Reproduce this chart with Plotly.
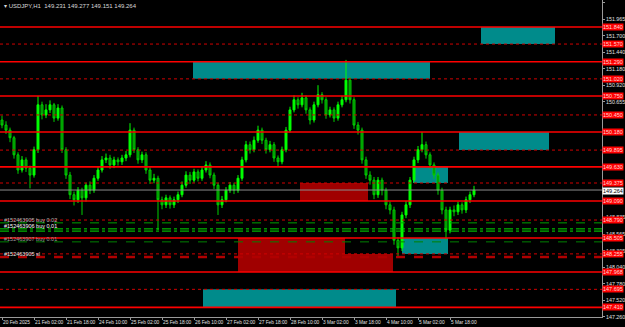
import plotly.graph_objects as go

# ---------------- data ----------------
opens = [150.37, 150.29, 150.21, 150.09, 149.82, 149.58, 149.74, 149.61, 149.50, 149.90,
         150.61, 150.45, 150.53, 150.61, 150.40, 150.56, 149.90, 149.50, 149.19, 149.11,
         149.26, 149.14, 149.34, 149.26, 149.45, 149.58, 149.74, 149.77, 149.66, 149.74,
         149.71, 149.77, 149.82, 150.21, 149.90, 149.74, 149.82, 149.58, 149.42, 149.45,
         149.11, 149.03, 149.14, 149.03, 149.11, 149.19, 149.34, 149.50, 149.42, 149.55,
         149.45, 149.58, 149.66, 149.50, 149.34, 149.03, 149.11, 149.26, 149.34, 149.26,
         149.45, 149.74, 149.98, 149.90, 150.05, 150.21, 150.05, 149.90, 149.98, 149.77,
         149.71, 149.90, 150.21, 150.53, 150.69, 150.61, 150.72, 150.53, 150.37, 150.61,
         150.77, 150.69, 150.45, 150.53, 150.40, 150.61, 150.69, 151.00, 150.69, 150.29,
         150.21, 149.74, 149.50, 149.42, 149.19, 149.42, 149.26, 149.03, 148.95, 148.47,
         148.35, 148.87, 149.03, 149.42, 149.74, 149.90, 149.98, 149.82, 149.66, 149.50,
         149.26, 148.95, 148.63, 148.95, 148.92, 149.03, 148.95, 149.11, 149.19]
highs = [150.44, 150.35, 150.25, 150.12, 149.86, 149.80, 149.78, 149.65, 149.95, 150.75,
         150.66, 150.62, 150.68, 150.64, 150.62, 150.60, 149.94, 149.55, 149.24, 149.31,
         149.30, 149.38, 149.40, 149.50, 149.63, 149.80, 149.84, 149.82, 149.79, 149.78,
         149.82, 149.88, 150.32, 150.25, 149.94, 149.87, 149.86, 149.62, 149.52, 149.49,
         149.16, 149.19, 149.18, 149.16, 149.24, 149.40, 149.56, 149.55, 149.60, 149.59,
         149.63, 149.72, 149.70, 149.54, 149.38, 149.17, 149.31, 149.39, 149.38, 149.50,
         149.79, 150.04, 150.03, 150.11, 150.28, 150.25, 150.09, 150.04, 150.02, 149.81,
         149.95, 150.26, 150.58, 150.76, 150.73, 150.80, 150.76, 150.57, 150.66, 150.92,
         150.81, 150.73, 150.58, 150.57, 150.66, 150.75, 151.32, 151.05, 150.73, 150.34,
         150.25, 149.79, 149.56, 149.47, 149.47, 149.46, 149.30, 149.08, 149.00, 148.52,
         148.92, 149.09, 149.47, 149.79, 149.96, 150.18, 150.03, 149.86, 149.70, 149.54,
         149.30, 149.00, 149.00, 149.02, 149.08, 149.07, 149.16, 149.24, 149.33]
lows = [150.24, 150.15, 150.02, 149.76, 149.52, 149.54, 149.55, 149.29, 149.46, 149.85,
        150.38, 150.40, 150.48, 150.34, 150.36, 149.85, 149.44, 149.12, 149.02, 149.06,
        148.87, 149.08, 149.20, 149.22, 149.41, 149.54, 149.69, 149.60, 149.61, 149.65,
        149.66, 149.72, 149.78, 149.85, 149.68, 149.69, 149.52, 149.36, 149.37, 148.63,
        148.96, 148.98, 148.97, 148.98, 149.06, 149.15, 149.30, 149.36, 149.38, 149.40,
        149.41, 149.54, 149.45, 149.28, 148.87, 148.98, 149.07, 149.22, 149.20, 149.22,
        149.41, 149.70, 149.84, 149.86, 150.01, 149.99, 149.84, 149.86, 149.71, 149.63,
        149.67, 149.86, 150.17, 150.49, 150.55, 150.57, 150.47, 150.30, 150.33, 150.57,
        150.63, 150.39, 150.41, 150.34, 150.36, 150.57, 150.65, 150.63, 150.23, 150.14,
        149.68, 149.44, 149.35, 149.12, 149.14, 149.18, 148.96, 148.88, 148.40, 148.19,
        148.30, 148.82, 148.98, 149.38, 149.69, 149.86, 149.76, 149.60, 149.44, 149.19,
        148.88, 148.47, 148.58, 148.85, 148.87, 148.89, 148.90, 149.06, 149.15]
closes = [150.29, 150.21, 150.09, 149.82, 149.58, 149.74, 149.61, 149.50, 149.90, 150.61,
          150.45, 150.53, 150.61, 150.40, 150.56, 149.90, 149.50, 149.19, 149.11, 149.26,
          149.14, 149.34, 149.26, 149.45, 149.58, 149.74, 149.77, 149.66, 149.74, 149.71,
          149.77, 149.82, 150.21, 149.90, 149.74, 149.82, 149.58, 149.42, 149.45, 149.11,
          149.03, 149.14, 149.03, 149.11, 149.19, 149.34, 149.50, 149.42, 149.55, 149.45,
          149.58, 149.66, 149.50, 149.34, 149.03, 149.11, 149.26, 149.34, 149.26, 149.45,
          149.74, 149.98, 149.90, 150.05, 150.21, 150.05, 149.90, 149.98, 149.77, 149.71,
          149.90, 150.21, 150.53, 150.69, 150.61, 150.72, 150.53, 150.37, 150.61, 150.77,
          150.69, 150.45, 150.53, 150.40, 150.61, 150.69, 151.00, 150.69, 150.29, 150.21,
          149.74, 149.50, 149.42, 149.19, 149.42, 149.26, 149.03, 148.95, 148.47, 148.35,
          148.87, 149.03, 149.42, 149.74, 149.90, 149.98, 149.82, 149.66, 149.50, 149.26,
          148.95, 148.63, 148.95, 148.92, 149.03, 148.95, 149.11, 149.19, 149.264]
bars = list(range(len(closes)))

time_labels = ["20 Feb 2025", "21 Feb 02:00", "21 Feb 18:00", "24 Feb 10:00", "25 Feb 02:00",
               "25 Feb 18:00", "26 Feb 10:00", "27 Feb 02:00", "27 Feb 18:00", "28 Feb 10:00",
               "3 Mar 02:00", "3 Mar 18:00", "4 Mar 10:00", "5 Mar 02:00", "5 Mar 18:00"]
time_label_bars = [0, 8, 16, 24, 32, 40, 48, 56, 64, 72, 80, 88, 96, 104, 112]

# price-scale labels that are visible (the others are covered by level labels)
price_ticks = [152.225, 151.965, 151.700, 151.440, 151.180, 150.920, 150.655,
               148.835, 148.565, 148.305, 148.040, 147.780, 147.520, 147.260]
price_range = [147.258, 152.266]

solid_levels = [151.840, 151.290, 150.750, 150.180, 149.630, 149.090, 148.505, 147.968, 147.410]
dotted_levels = [151.570, 151.020, 150.450, 149.895, 149.375, 148.790, 148.255, 147.695]
current_price = 149.264

# order lines
order_prices = [148.745, 148.650, 148.615, 148.445, 148.205]
order_colors = ["#00a000", "#00e000", "#00e000", "#008000", "#b00000"]
order_dashes = ["dash", "dashdot", "dashdot", "dash", "dash"]
order_widths = [1, 1, 1, 1, 2.5]
order_texts = ["#152463905 buy 0.02", "#152463906 buy 0.01", "#152463907 buy 0.01", "#152463905 sl"]
order_text_prices = [148.745, 148.650, 148.445, 148.205]
order_text_colors = ["#b8b8b8", "#ffffff", "#9a9a9a", "#e8e8e8"]

# zones: bar start, bar end, price top, price bottom
teal_x0 = [119.75, 47.75, 114.25, 102.75, 100.0, 50.25]
teal_x1 = [138.25, 107.0, 136.75, 111.5, 111.5, 98.5]
teal_top = [151.840, 151.290, 150.180, 149.630, 148.505, 147.695]
teal_bot = [151.570, 151.020, 149.895, 149.375, 148.255, 147.410]
red_x0 = [74.5, 59.0, 85.75]
red_x1 = [91.5, 85.75, 97.75]
red_top = [149.375, 148.505, 148.255]
red_bot = [149.090, 147.968, 147.968]

FONT = "Liberation Sans"

fig = go.Figure()
fig.add_trace(go.Candlestick(
    x=bars, open=opens, high=highs, low=lows, close=closes,
    increasing=dict(line=dict(color="#00ff00", width=1), fillcolor="#00ff00"),
    decreasing=dict(line=dict(color="#00d000", width=1), fillcolor="#007a00"),
    whiskerwidth=0, showlegend=False, hoverinfo="skip"))

shapes = []
for x0, x1, t, b in zip(teal_x0, teal_x1, teal_top, teal_bot):
    shapes.append(dict(type="rect", xref="x", yref="y", x0=x0, x1=x1, y0=b, y1=t,
                       fillcolor="#008b8b", line=dict(width=0), layer="below"))
for x0, x1, t, b in zip(red_x0, red_x1, red_top, red_bot):
    shapes.append(dict(type="rect", xref="x", yref="y", x0=x0, x1=x1, y0=b, y1=t,
                       fillcolor="#a00000", line=dict(width=0), layer="below"))
for p in dotted_levels:
    shapes.append(dict(type="line", xref="paper", yref="y", x0=0, x1=1, y0=p, y1=p,
                       line=dict(color="#d00000", width=1, dash="dot")))
for p in solid_levels:
    shapes.append(dict(type="line", xref="paper", yref="y", x0=0, x1=1, y0=p, y1=p,
                       line=dict(color="#ff0000", width=1.6)))
for p, c, d, w in zip(order_prices, order_colors, order_dashes, order_widths):
    shapes.append(dict(type="line", xref="paper", yref="y", x0=0, x1=1, y0=p, y1=p,
                       line=dict(color=c, width=w, dash=d)))
shapes.append(dict(type="line", xref="paper", yref="y", x0=0, x1=1, y0=current_price,
                   y1=current_price, line=dict(color="#8c8c8c", width=1)))

annotations = []
for p in solid_levels + dotted_levels:
    annotations.append(dict(xref="paper", yref="y", x=1, y=p, xanchor="left", yanchor="middle",
                            text=f"{p:.3f}", showarrow=False, bgcolor="#ff0000",
                            font=dict(family=FONT, size=5.5, color="#ffd6d6"), borderpad=0))
annotations.append(dict(xref="paper", yref="y", x=1, y=current_price, xanchor="left",
                        yanchor="middle", text=f"{current_price:.3f}", showarrow=False,
                        bgcolor="#ffffff", font=dict(family=FONT, size=5.5, color="#000000"),
                        borderpad=0, yshift=-1))
for t, p, c in zip(order_texts, order_text_prices, order_text_colors):
    annotations.append(dict(xref="paper", yref="y", x=0.005, y=p, xanchor="left", yanchor="bottom",
                            text=t, showarrow=False, font=dict(family=FONT, size=5.5, color=c),
                            borderpad=0, yshift=-1))
annotations.append(dict(xref="paper", yref="paper", x=0.003, y=1, xanchor="left", yanchor="top",
                        text="▾ USDJPY,H1  149.231 149.277 149.151 149.264", showarrow=False,
                        font=dict(family=FONT, size=6, color="#d8d8d8"), yshift=-1))

fig.update_layout(
    width=625, height=327,
    margin=dict(l=0, r=23, t=0, b=10, autoexpand=False),
    paper_bgcolor="#000000", plot_bgcolor="#000000",
    shapes=shapes, annotations=annotations,
    xaxis=dict(range=[-0.5, 150], rangeslider=dict(visible=False), showgrid=False,
               zeroline=False, tickmode="array", tickvals=time_label_bars, ticktext=time_labels,
               ticks="outside", ticklen=2, tickcolor="#9a9a9a", showline=True,
               linecolor="#9a9a9a", linewidth=1, ticklabelposition="outside right",
               tickangle=0, automargin=False,
               tickfont=dict(family=FONT, size=4.8, color="#e0e0e0")),
    yaxis=dict(range=price_range, side="right", showgrid=False, zeroline=False,
               tickmode="array", tickvals=price_ticks, tickformat=".3f",
               ticks="outside", ticklen=2, tickcolor="#9a9a9a", showline=True,
               linecolor="#9a9a9a", linewidth=1, automargin=False,
               tickfont=dict(family=FONT, size=5.3, color="#e0e0e0")),
)

fig.write_html("out.html")
